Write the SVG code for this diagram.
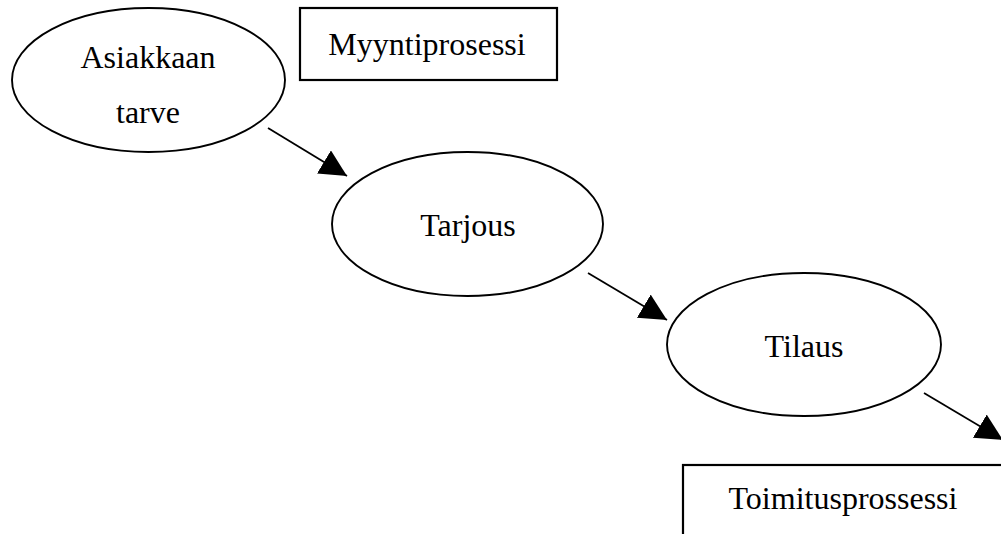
<svg xmlns="http://www.w3.org/2000/svg" width="1001" height="534" viewBox="0 0 1001 534">
<style>
.node{fill:#fff;stroke:#000;stroke-width:1.9}
.box{fill:#fff;stroke:#000;stroke-width:2.2}
.lbl{font-family:"Liberation Serif","Times New Roman",serif;font-size:32px;fill:#000;text-anchor:middle}
.conn{stroke:#000;stroke-width:1.8;fill:none;marker-end:url(#arr)}
</style>
<defs>
<marker id="arr" markerUnits="userSpaceOnUse" markerWidth="28" markerHeight="28" refX="27" refY="13.5" orient="auto" viewBox="0 0 28 28">
<path d="M0,0 L27,13.5 L0,27 z" fill="#000"/>
</marker>
</defs>
<rect width="1001" height="534" fill="#fff"/>
<g id="n1">
<ellipse class="node" cx="148.5" cy="80" rx="136.5" ry="72"/>
<text class="lbl" x="148" y="68">Asiakkaan</text>
<text class="lbl" x="148" y="123">tarve</text>
</g>
<g id="n2">
<rect class="box" x="300" y="8" width="257" height="72"/>
<text class="lbl" x="427" y="55">Myyntiprosessi</text>
</g>
<g id="n3">
<ellipse class="node" cx="467.5" cy="224" rx="135.5" ry="72"/>
<text class="lbl" x="468" y="236">Tarjous</text>
</g>
<g id="n4">
<ellipse class="node" cx="804" cy="344.5" rx="137" ry="71.5"/>
<text class="lbl" x="804" y="357">Tilaus</text>
</g>
<g id="n5">
<rect class="box" x="683" y="465" width="340" height="90"/>
<text class="lbl" x="843" y="509">Toimitusprossessi</text>
</g>
<g id="connectors">
<line class="conn" x1="268" y1="128" x2="347" y2="176"/>
<line class="conn" x1="588" y1="273" x2="667" y2="320"/>
<line class="conn" x1="924" y1="393" x2="1003" y2="440"/>
</g>
</svg>
